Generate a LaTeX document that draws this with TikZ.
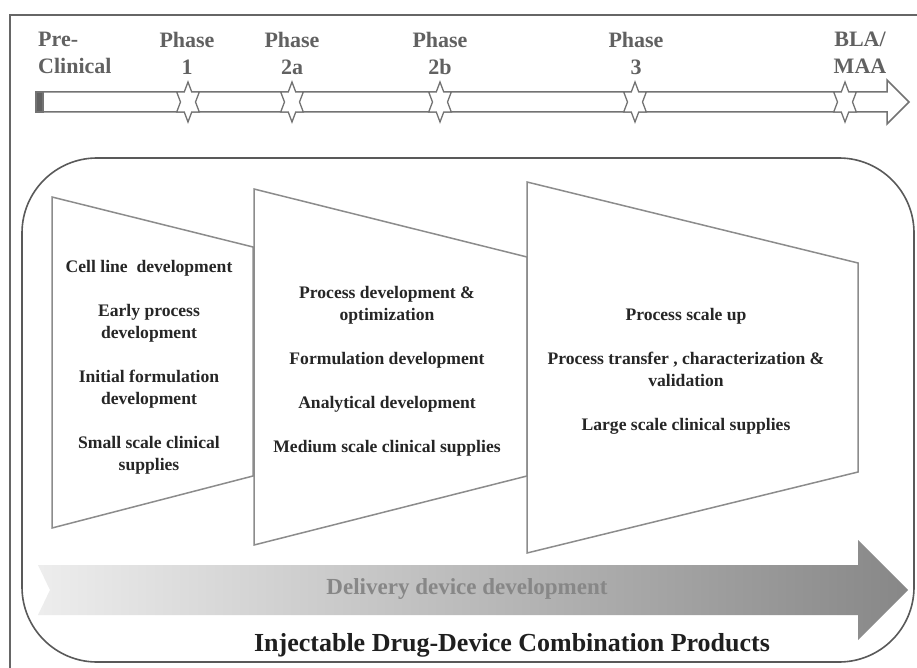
\documentclass[tikz,border=0pt]{standalone}
\usepackage{fontspec}
\setmainfont{Liberation Serif}
\begin{document}
\begin{tikzpicture}[x=1pt,y=-1pt,
  frameline/.style={draw=black!60,line width=1.5pt},
  barline/.style={draw=black!55,line width=1.5pt,fill=white,line join=miter},
  trap/.style={draw=black!45,line width=1.5pt,fill=white},
  boxline/.style={draw=black!65,line width=1.6pt,rounded corners=75pt},
  hdr/.style={font=\bfseries\fontsize{22}{27}\selectfont,text=black!62,align=center,inner sep=0pt},
  body/.style={font=\bfseries\fontsize{17.6}{22}\selectfont,text=black!85,align=center,inner sep=0pt},
  hexstar/.pic={\path[barline,line width=1.3pt] (0,-20) -- (3.75,-10) -- (11.3,-10) -- (7.5,0) -- (11.3,10) -- (3.75,10) -- (0,20) -- (-3.75,10) -- (-11.3,10) -- (-7.5,0) -- (-11.3,-10) -- (-3.75,-10) -- cycle;}
]
\useasboundingbox (0,0) rectangle (917,668);
\fill[white] (0,0) rectangle (917,668);
\draw[frameline] (917,15) -- (10,15) -- (10,668);

% timeline arrow
\path[barline] (36,92) -- (887,92) -- (887,80) -- (909,102) -- (887,124) -- (887,112) -- (36,112) -- cycle;
\fill[black!62] (36,92) rectangle (43,112);
\draw[black!55,line width=1.5pt] (36,92) rectangle (43,112);

% milestones
\pic (s1) at (188,102) {hexstar};
\pic (s2) at (292,102) {hexstar};
\pic (s3) at (440,102) {hexstar};
\pic (s4) at (635,102) {hexstar};
\pic (s5) at (845,102) {hexstar};

% header labels
\node[hdr,align=left,anchor=west] (pre) at (38,53) {Pre-\\Clinical};
\node[hdr] (p1) at (187,53) {Phase\\1};
\node[hdr] (p2a) at (292,53) {Phase\\2a};
\node[hdr] (p2b) at (440,53) {Phase\\2b};
\node[hdr] (p3) at (636,53) {Phase\\3};
\node[hdr] (bla) at (860,53) {BLA/\\MAA};

% outer rounded box
\draw[boxline] (22,158) rectangle (914,662);

% stage trapezoids
\path[trap] (52,197) -- (253,247) -- (253,476) -- (52,528) -- cycle;
\path[trap] (254,189) -- (527,257) -- (527,476) -- (254,545) -- cycle;
\path[trap] (527,182) -- (858,263) -- (858,472) -- (527,553) -- cycle;

\node[body] (t1) at (149,367) {Cell line\ \ development\\[22pt]Early process\\development\\[22pt]Initial formulation\\development\\[22pt]Small scale clinical\\supplies};
\node[body] (t2) at (387,371) {Process development \&\\optimization\\[22pt]Formulation development\\[22pt]Analytical development\\[22pt]Medium scale clinical supplies};
\node[body] (t3) at (686,371) {Process scale up\\[22pt]Process transfer , characterization \&\\validation\\[22pt]Large scale clinical supplies};

% delivery device arrow
\shade[left color=black!7,middle color=black!18,right color=black!47] (38,565) -- (858,565) -- (858,540) -- (908,590) -- (858,640) -- (858,615) -- (38,615) -- (50,590) -- cycle;
\node[font=\bfseries\fontsize{23}{27}\selectfont,text=black!47,inner sep=0pt] (dev) at (467,589) {Delivery device development};

\node[font=\bfseries\fontsize{26}{30}\selectfont,text=black!88,inner sep=0pt] (title) at (512,645) {Injectable Drug-Device Combination Products};
\end{tikzpicture}
\end{document}
